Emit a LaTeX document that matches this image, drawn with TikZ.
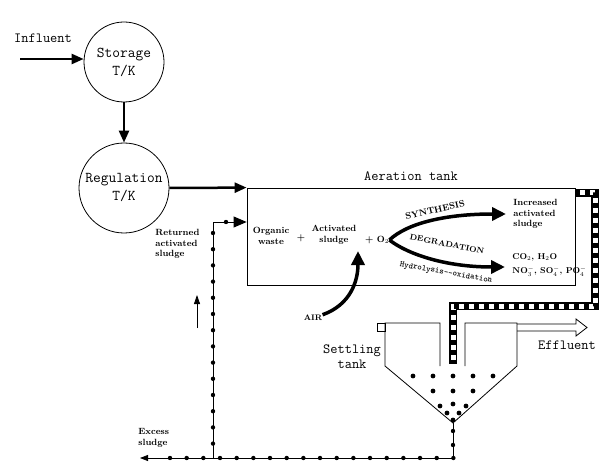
\documentclass[tikz,border=0pt]{standalone}
\usepackage{tikz}
\usetikzlibrary{arrows.meta,positioning}
\begin{document}
\begin{tikzpicture}[x=1pt,y=-1pt,>={Triangle[length=12pt,width=10pt]},line width=0.8pt,
 tankc/.style={draw,circle,inner sep=0pt,align=center,
 font=\fontsize{15}{18}\selectfont\ttfamily},
 big/.style={font=\fontsize{14}{15}\selectfont\ttfamily,align=center},
 small/.style={font=\fontsize{9}{10.5}\selectfont\bfseries,align=left,inner sep=0pt},
 flow/.style={line width=2.5pt,->},
 bigflow/.style={line width=3.5pt,-{Triangle[length=14pt,width=13pt]}},
 sludge/.style={line width=0.8pt},
 pipe/.style={line width=8pt,line join=miter,
 postaction={draw=white,line width=5pt,line join=miter},
 postaction={draw,line width=5pt,dash pattern=on 5pt off 5pt}}]
\useasboundingbox (0,0) rectangle (604,462);
% storage and regulation tanks
\node[tankc,minimum size=80pt] (storage) at (124,62) {Storage\\T/K};
\node[tankc,minimum size=90pt] (regulation) at (124,188) {Regulation\\T/K};
\node[big] (influent) at (43,38) {Influent};
\coordinate (in) at (20,59);
\draw[flow] (in) -- (storage.west |- in);
\draw[flow] (storage) -- (regulation);
% aeration tank
\node[draw,minimum width=328pt,minimum height=97pt,inner sep=0pt] (aeration) at (411,236.5) {};
\node[big,above=3pt of aeration] (aerlabel) {Aeration tank};
\draw[flow] (regulation.east) -- (aeration.north west);
\node[small,align=center] (organic) at (271,236) {Organic\\waste};
\node[small] (plus) at (301,238) {+};
\node[small,align=center] (activated) at (334,235) {Activated\\sludge};
\node[small] (oxygen) at (377,240) {+ O$_2$};
\node[small,anchor=west] (increased) at (513,214) {Increased\\activated\\sludge};
\node[small,anchor=west,font=\fontsize{8.5}{14}\selectfont\bfseries] (products) at (512,265) {CO$_2$, H$_2$O\\NO$_3^-$, SO$_4^-$, PO$_4^-$};
\draw[bigflow] (oxygen.east) .. controls +(18,-17) and +(-60,0) .. ([xshift=-7pt]increased.west);
\draw[bigflow] (oxygen.east) .. controls +(18,14) and +(-60,0) .. ([xshift=-7pt,yshift=-2pt]products.west);
\node[small,rotate=13] (synthesis) at (435,210) {SYNTHESIS};
\node[small,font=\fontsize{8}{9}\selectfont\bfseries,rotate=-11] (degradation) at (447,244) {DEGRADATION};
\node[font=\fontsize{8.5}{9}\selectfont\ttfamily\bfseries,inner sep=0pt,rotate=-10] (hydrolysis) at (446,273) {Hydrolysis--oxidation};
% air
\node[small,font=\fontsize{8}{8}\selectfont\bfseries] (air) at (313,318) {AIR};
\coordinate (airtip) at (358,251);
\draw[bigflow] (air.north east) .. controls +(28,-10) and +(0,30) .. (airtip);
% settling tank
\coordinate (apex) at (453,423);
\draw (377,323) rectangle (385,331);
\draw (440,366) -- (440,323) -- (385,323) -- (385,366) -- (apex) -- (517,366) -- (517,323) -- (465,323) -- (465,366);
\node[big] (settling) at (352,357) {Settling\\tank};
\coordinate (pipein) at (453,364);
\draw[pipe] ([yshift=-5pt]aeration.north east) -- ++(20,0) |- (453,306) -- (pipein);
\draw (517,324) -- (576,324) -- (576,319) -- (587,327.5) -- (576,336) -- (576,331) -- (517,331);
\node[big] (effluent) at (567,345) {Effluent};
\foreach \p in {(413,376),(433,376),(453,376),(473,376),(493,376),(433,391),(453,391),(473,391),
 (440,406),(453,404),(466,406),(447,413),(459,413),(453,420)}
 \fill \p circle[radius=2.4pt];
% sludge return
\coordinate (junction) at (213,458);
\coordinate (excess) at (140,458);
\coordinate (retin) at (247,222);
\draw[sludge,-{Triangle[length=8pt,width=6pt]}] (apex) |- (excess);
\draw[sludge,-{Triangle[length=13pt,width=11pt]}] (junction) |- (aeration.west |- retin);
\foreach \i in {0,...,17} \fill ({170+16.67*\i},458) circle[radius=2.2pt];
\foreach \i in {0,...,13} \fill (213,{233+16.2*\i}) circle[radius=2.2pt];
\fill (453,431) circle[radius=2.2pt] (453,445) circle[radius=2.2pt] (226,222) circle[radius=2.2pt];
\node[small,anchor=north west] (returned) at (155,229) {Returned\\activated\\sludge};
\node[small,anchor=west] (excesslabel) at (138,438) {Excess\\sludge};
\coordinate (upa) at (197,328);
\coordinate (upb) at (197,295);
\draw[line width=0.8pt,-{Triangle[length=9pt,width=6pt]}] (upa) -- (upb);
\end{tikzpicture}
\end{document}
